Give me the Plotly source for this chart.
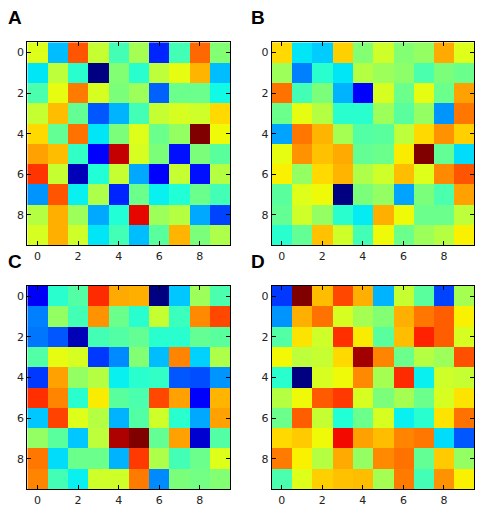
import numpy as np
import plotly.graph_objects as go

ticks = [0, 2, 4, 6, 8]
labels = ["A", "B", "C", "D"]

panel_a = [
    [0.62, 0.31, 0.82, 0.59, 0.43, 0.55, 0.16, 0.43, 0.80, 0.51],
    [0.35, 0.58, 0.40, 0.00, 0.51, 0.40, 0.58, 0.63, 0.72, 0.31],
    [0.44, 0.63, 0.78, 0.61, 0.50, 0.54, 0.22, 0.48, 0.48, 0.37],
    [0.59, 0.71, 0.47, 0.21, 0.30, 0.43, 0.59, 0.61, 0.60, 0.68],
    [0.68, 0.47, 0.79, 0.35, 0.50, 0.62, 0.48, 0.53, 1.00, 0.64],
    [0.74, 0.71, 0.41, 0.12, 0.94, 0.61, 0.50, 0.14, 0.50, 0.46],
    [0.855, 0.59, 0.05, 0.39, 0.59, 0.29, 0.12, 0.59, 0.14, 0.57],
    [0.27, 0.82, 0.36, 0.56, 0.16, 0.48, 0.36, 0.39, 0.48, 0.43],
    [0.57, 0.725, 0.54, 0.29, 0.39, 0.91, 0.54, 0.57, 0.29, 0.19],
    [0.61, 0.725, 0.60, 0.35, 0.43, 0.31, 0.46, 0.72, 0.50, 0.56],
]

panel_b = [
    [0.68, 0.35, 0.325, 0.69, 0.51, 0.60, 0.51, 0.53, 0.73, 0.62],
    [0.54, 0.25, 0.40, 0.35, 0.57, 0.54, 0.52, 0.44, 0.50, 0.48],
    [0.79, 0.43, 0.50, 0.30, 0.12, 0.61, 0.48, 0.63, 0.48, 0.74],
    [0.48, 0.63, 0.57, 0.40, 0.40, 0.54, 0.46, 0.53, 0.27, 0.785],
    [0.285, 0.785, 0.72, 0.55, 0.45, 0.46, 0.58, 0.68, 0.755, 0.69],
    [0.63, 0.755, 0.705, 0.73, 0.47, 0.48, 0.66, 1.00, 0.47, 0.34],
    [0.655, 0.53, 0.68, 0.72, 0.56, 0.60, 0.71, 0.62, 0.765, 0.82],
    [0.46, 0.62, 0.64, 0.00, 0.50, 0.53, 0.285, 0.50, 0.44, 0.74],
    [0.47, 0.60, 0.53, 0.40, 0.355, 0.725, 0.64, 0.48, 0.48, 0.58],
    [0.40, 0.47, 0.705, 0.60, 0.43, 0.64, 0.48, 0.54, 0.57, 0.655],
]

panel_c = [
    [0.11, 0.40, 0.45, 0.865, 0.73, 0.725, 0.00, 0.32, 0.54, 0.44],
    [0.25, 0.53, 0.43, 0.755, 0.48, 0.40, 0.59, 0.42, 0.765, 0.835],
    [0.24, 0.21, 0.05, 0.43, 0.45, 0.47, 0.40, 0.40, 0.47, 0.46],
    [0.45, 0.63, 0.61, 0.18, 0.26, 0.51, 0.31, 0.77, 0.33, 0.56],
    [0.18, 0.74, 0.53, 0.57, 0.36, 0.40, 0.41, 0.21, 0.20, 0.27],
    [0.86, 0.77, 0.40, 0.66, 0.46, 0.44, 0.835, 0.74, 0.12, 0.72],
    [0.32, 0.84, 0.62, 0.57, 0.30, 0.45, 0.60, 0.40, 0.29, 0.74],
    [0.53, 0.46, 0.32, 0.58, 0.96, 1.00, 0.47, 0.74, 0.07, 0.45],
    [0.785, 0.34, 0.48, 0.48, 0.30, 0.85, 0.56, 0.43, 0.48, 0.62],
    [0.77, 0.43, 0.36, 0.60, 0.60, 0.78, 0.26, 0.50, 0.49, 0.51],
]

panel_d = [
    [0.18, 1.00, 0.71, 0.835, 0.725, 0.30, 0.59, 0.46, 0.19, 0.55],
    [0.27, 0.725, 0.79, 0.61, 0.55, 0.51, 0.725, 0.785, 0.81, 0.655],
    [0.45, 0.67, 0.60, 0.86, 0.66, 0.46, 0.71, 0.875, 0.81, 0.61],
    [0.645, 0.58, 0.59, 0.68, 0.97, 0.77, 0.48, 0.57, 0.54, 0.825],
    [0.40, 0.00, 0.61, 0.64, 0.765, 0.55, 0.865, 0.36, 0.60, 0.59],
    [0.57, 0.64, 0.815, 0.85, 0.61, 0.50, 0.55, 0.48, 0.61, 0.67],
    [0.48, 0.81, 0.59, 0.39, 0.48, 0.61, 0.36, 0.40, 0.67, 0.79],
    [0.68, 0.695, 0.64, 0.90, 0.74, 0.71, 0.77, 0.785, 0.34, 0.21],
    [0.78, 0.655, 0.57, 0.73, 0.53, 0.765, 0.79, 0.47, 0.695, 0.53],
    [0.44, 0.62, 0.69, 0.705, 0.71, 0.55, 0.78, 0.43, 0.755, 0.655],
]

# matplotlib "jet" colormap reproduced as a plotly colorscale
def _jet_scale(n=41):
    s = np.linspace(0, 1, n)
    r = np.interp(s, [0, 0.35, 0.66, 0.89, 1], [0, 0, 1, 1, 0.5])
    g = np.interp(s, [0, 0.125, 0.375, 0.64, 0.91, 1], [0, 0, 1, 1, 0, 0])
    b = np.interp(s, [0, 0.11, 0.34, 0.65, 1], [0.5, 1, 1, 0, 0])
    return [[float(v), "rgb(%d,%d,%d)" % (round(rr * 255), round(gg * 255), round(bb * 255))]
            for v, rr, gg, bb in zip(s, r, g, b)]

jet = _jet_scale()

W, H = 481, 510
boxes = [  # left, right, top, bottom in pixels
    (27.3, 230.3, 42.3, 245.3),
    (271.7, 474.3, 42.3, 245.3),
    (27.3, 230.3, 286.0, 489.3),
    (271.7, 474.3, 286.0, 489.3),
]
label_pos = [(6, 5), (249, 5), (6, 249), (249, 249)]

fig = go.Figure()
layout = dict(
    width=W, height=H, margin=dict(l=0, r=0, t=0, b=0),
    paper_bgcolor="white", plot_bgcolor="white", showlegend=False,
    font=dict(family="DejaVu Sans", size=11, color="#222222"),
)
annotations = []
for i, (data, box) in enumerate(zip([panel_a, panel_b, panel_c, panel_d], boxes)):
    n = "" if i == 0 else str(i + 1)
    fig.add_trace(go.Heatmap(
        z=data, colorscale=jet, showscale=False,
        xaxis="x" + n, yaxis="y" + n, hoverongaps=False,
    ))
    l, r, t, b = box
    axis_common = dict(
        showline=True, linecolor="black", linewidth=1, mirror="ticks",
        ticks="inside", ticklen=4, tickcolor="black", tickwidth=1,
        tickvals=ticks, showgrid=False, zeroline=False,
    )
    layout["xaxis" + n] = dict(domain=[l / W, r / W], range=[-0.5, 9.5],
                               anchor="y" + n, **axis_common)
    layout["yaxis" + n] = dict(domain=[1 - b / H, 1 - t / H], range=[9.5, -0.5],
                               anchor="x" + n, **axis_common)
    lx, ly = label_pos[i]
    annotations.append(dict(
        text="<b>%s</b>" % labels[i], xref="paper", yref="paper",
        x=lx / W, y=1 - ly / H, xanchor="left", yanchor="top", showarrow=False,
        font=dict(family="Liberation Sans", size=19, color="black"),
    ))
layout["annotations"] = annotations
fig.update_layout(**layout)
fig.write_html(
    "out.html",
    config={"displayModeBar": False},
    post_script="document.body.style.margin='0';document.body.style.overflow='hidden';",
)
